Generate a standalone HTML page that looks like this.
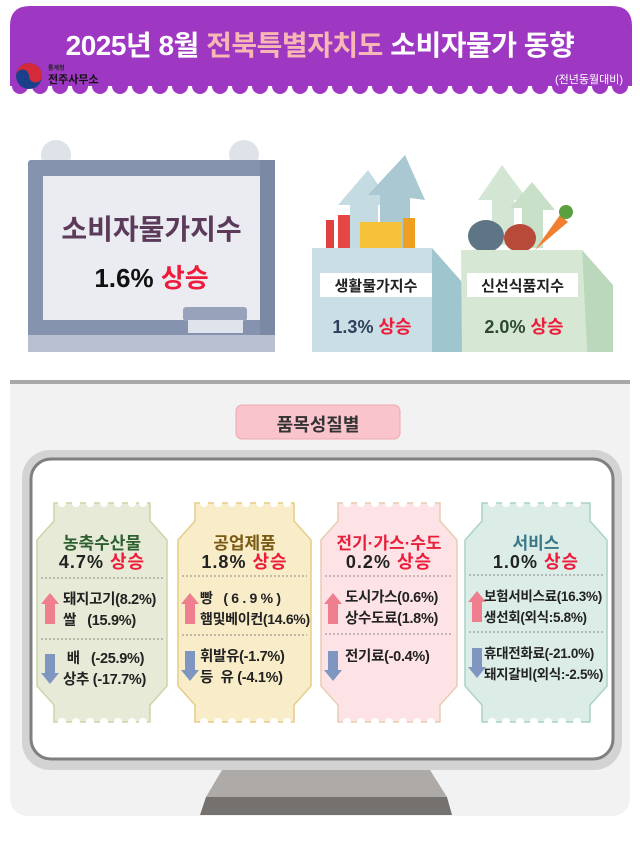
<!DOCTYPE html>
<html><head><meta charset="utf-8">
<style>
body{margin:0;width:640px;height:851px;background:#fff;position:relative;overflow:hidden;font-family:"Liberation Sans","Noto Sans CJK KR",sans-serif;}
.a{position:absolute;white-space:nowrap;}
.b{font-weight:bold;}
.r{color:#ee1c3a;}
.tk{position:absolute;text-align:center;}
.it{position:absolute;font-size:14.5px;font-weight:bold;color:#222;line-height:21px;letter-spacing:-0.3px;}
</style></head><body>
<svg class="a" style="left:0;top:0" width="640" height="851">
 <path d="M10,26 Q10,6 30,6 L612,6 Q632,6 632,26 L632,86 L10,86 Z" fill="#9e38c2"/>
 <g fill="#9e38c2">
  <circle cx="20" cy="86" r="8"/><circle cx="40" cy="86" r="8"/><circle cx="60" cy="86" r="8"/><circle cx="80" cy="86" r="8"/><circle cx="100" cy="86" r="8"/><circle cx="120" cy="86" r="8"/><circle cx="140" cy="86" r="8"/><circle cx="160" cy="86" r="8"/><circle cx="180" cy="86" r="8"/><circle cx="200" cy="86" r="8"/><circle cx="220" cy="86" r="8"/><circle cx="240" cy="86" r="8"/><circle cx="260" cy="86" r="8"/><circle cx="280" cy="86" r="8"/><circle cx="300" cy="86" r="8"/><circle cx="320" cy="86" r="8"/><circle cx="340" cy="86" r="8"/><circle cx="360" cy="86" r="8"/><circle cx="380" cy="86" r="8"/><circle cx="400" cy="86" r="8"/><circle cx="420" cy="86" r="8"/><circle cx="440" cy="86" r="8"/><circle cx="460" cy="86" r="8"/><circle cx="480" cy="86" r="8"/><circle cx="500" cy="86" r="8"/><circle cx="520" cy="86" r="8"/><circle cx="540" cy="86" r="8"/><circle cx="560" cy="86" r="8"/><circle cx="580" cy="86" r="8"/><circle cx="600" cy="86" r="8"/><circle cx="620" cy="86" r="8"/>
 </g>
 <rect x="0" y="78" width="10" height="20" fill="#fff"/><rect x="632" y="78" width="8" height="20" fill="#fff"/>
 <circle cx="29" cy="76" r="13" fill="#1c3f8a"/>
 <path d="M16,76 A13,13 0 0 1 42,76 A6.5,6.5 0 0 1 29,76 A6.5,6.5 0 0 0 16,76Z" fill="#d42a3a"/>
 <circle cx="56" cy="155" r="15" fill="#dfe2e9"/><circle cx="244" cy="155" r="15" fill="#dfe2e9"/>
 <rect x="28" y="160" width="247" height="192" rx="3" fill="#8593ae"/>
 <rect x="260" y="160" width="15" height="192" fill="#7c89a5"/>
 <rect x="28" y="335" width="247" height="17" fill="#b9c0d1"/>
 <rect x="43" y="176" width="217" height="144" fill="#eaecf1"/>
 <rect x="183" y="307" width="64" height="14" rx="3" fill="#98a3bb"/>
 <rect x="188" y="320" width="55" height="13" fill="#dfe3ec"/>
 <path d="M350,250 L350,205 L338,205 L368,170 L392,205 L378,205 L378,250Z" fill="#c5dbe2"/>
 <path d="M380,250 L380,195 L368,195 L405,155 L425,200 L410,198 L410,250Z" fill="#a9c8d2"/>
 <rect x="326" y="220" width="8" height="35" fill="#e04040"/>
 <rect x="338" y="215" width="12" height="40" fill="#e84545"/>
 <rect x="360" y="222" width="42" height="30" fill="#f5c23a"/><rect x="403" y="218" width="12" height="35" fill="#f0a020"/>
 <path d="M312,248 L432,248 L432,352 L312,352Z" fill="#c9dfe5"/>
 <path d="M432,248 L462,282 L462,352 L432,352Z" fill="#9fc5cf"/>
 <path d="M492,245 L492,200 L478,200 L502,165 L528,200 L514,200 L514,245Z" fill="#d3e6d3"/>
 <path d="M522,248 L522,208 L510,208 L532,182 L555,210 L543,210 L543,248Z" fill="#c8dfc8"/>
 <ellipse cx="486" cy="236" rx="18" ry="16" fill="#5d7585"/>
 <ellipse cx="520" cy="238" rx="16" ry="14" fill="#b84a3a"/>
 <path d="M535,250 L560,215 L568,222 Z" fill="#f08030"/><circle cx="566" cy="212" r="7" fill="#5aa040"/>
 <path d="M461,250 L582,250 L587,352 L462,352Z" fill="#d6e7d4"/>
 <path d="M582,250 L613,285 L613,352 L587,352Z" fill="#bcd8bc"/>
 <rect x="320" y="273" width="112" height="24" fill="#fff"/>
 <rect x="467" y="273" width="111" height="24" fill="#fff"/>
 <rect x="10" y="380" width="620" height="4" fill="#a8a8a8"/>
 <path d="M10,384 L630,384 L630,796 Q630,816 610,816 L30,816 Q10,816 10,796Z" fill="#f2f2f2"/>
 <rect x="236" y="405" width="164" height="34" rx="6" fill="#f9c4cb" stroke="#f0a8b2"/>
 <rect x="22" y="450" width="600" height="320" rx="28" fill="#d3d3d3"/>
 <rect x="31" y="459" width="582" height="300" rx="20" fill="#fff" stroke="#7f7f7f" stroke-width="3"/>
 <path d="M222,770 L430,770 L447,797 L206,797Z" fill="#aeaaa8"/>
 <path d="M206,797 L447,797 L452,815 L200,815Z" fill="#75716f"/>
 <g stroke-width="1.5">
 <polygon points="37,540 54,521 54,503 150,503 150,521 167,540 167,686 150,705 150,722 54,722 54,705 37,686" fill="#e6ead6" stroke="#ccd4a8"/>
 <polygon points="178,540 195,521 195,503 294,503 294,521 311,540 311,686 294,705 294,722 195,722 195,705 178,686" fill="#f8ecc9" stroke="#e6cc86"/>
 <polygon points="321,540 338,521 338,503 440,503 440,521 457,540 457,686 440,705 440,722 338,722 338,705 321,686" fill="#fde3e6" stroke="#e8cdb0"/>
 <polygon points="465,540 482,521 482,503 590,503 590,521 607,540 607,686 590,705 590,722 482,722 482,705 465,686" fill="#dcede7" stroke="#a9d2c8"/>
 </g>
 <g fill="#fff">
  <circle cx="62" cy="503" r="4"/><circle cx="76" cy="503" r="4"/><circle cx="90" cy="503" r="4"/><circle cx="104" cy="503" r="4"/><circle cx="118" cy="503" r="4"/><circle cx="132" cy="503" r="4"/><circle cx="143" cy="503" r="4"/>
  <circle cx="62" cy="722" r="4"/><circle cx="76" cy="722" r="4"/><circle cx="90" cy="722" r="4"/><circle cx="104" cy="722" r="4"/><circle cx="118" cy="722" r="4"/><circle cx="132" cy="722" r="4"/><circle cx="143" cy="722" r="4"/>
  <circle cx="204" cy="503" r="4"/><circle cx="218" cy="503" r="4"/><circle cx="232" cy="503" r="4"/><circle cx="246" cy="503" r="4"/><circle cx="260" cy="503" r="4"/><circle cx="274" cy="503" r="4"/><circle cx="287" cy="503" r="4"/>
  <circle cx="204" cy="722" r="4"/><circle cx="218" cy="722" r="4"/><circle cx="232" cy="722" r="4"/><circle cx="246" cy="722" r="4"/><circle cx="260" cy="722" r="4"/><circle cx="274" cy="722" r="4"/><circle cx="287" cy="722" r="4"/>
  <circle cx="347" cy="503" r="4"/><circle cx="361" cy="503" r="4"/><circle cx="375" cy="503" r="4"/><circle cx="389" cy="503" r="4"/><circle cx="403" cy="503" r="4"/><circle cx="417" cy="503" r="4"/><circle cx="431" cy="503" r="4"/>
  <circle cx="347" cy="722" r="4"/><circle cx="361" cy="722" r="4"/><circle cx="375" cy="722" r="4"/><circle cx="389" cy="722" r="4"/><circle cx="403" cy="722" r="4"/><circle cx="417" cy="722" r="4"/><circle cx="431" cy="722" r="4"/>
  <circle cx="492" cy="503" r="4"/><circle cx="506" cy="503" r="4"/><circle cx="520" cy="503" r="4"/><circle cx="534" cy="503" r="4"/><circle cx="548" cy="503" r="4"/><circle cx="562" cy="503" r="4"/><circle cx="577" cy="503" r="4"/>
  <circle cx="492" cy="722" r="4"/><circle cx="506" cy="722" r="4"/><circle cx="520" cy="722" r="4"/><circle cx="534" cy="722" r="4"/><circle cx="548" cy="722" r="4"/><circle cx="562" cy="722" r="4"/><circle cx="577" cy="722" r="4"/>
 </g>
 <g stroke="#888" stroke-dasharray="2,2" stroke-width="1">
  <line x1="41" y1="578" x2="163" y2="578"/><line x1="41" y1="639" x2="163" y2="639"/>
  <line x1="182" y1="576" x2="307" y2="576"/><line x1="182" y1="635" x2="307" y2="635"/>
  <line x1="325" y1="576" x2="453" y2="576"/><line x1="325" y1="634" x2="453" y2="634"/>
  <line x1="469" y1="575" x2="603" y2="575"/><line x1="469" y1="632" x2="603" y2="632"/>
 </g>
 <g fill="#ef7f8e">
  <path d="M45,624 L45,604 L41,604 L50,593 L59,604 L55,604 L55,624Z"/>
  <path d="M185,624 L185,604 L181,604 L190,593 L199,604 L195,604 L195,624Z"/>
  <path d="M328,624 L328,604 L324,604 L333,593 L342,604 L338,604 L338,624Z"/>
  <path d="M472,622 L472,602 L468,602 L477,591 L486,602 L482,602 L482,622Z"/>
 </g>
 <g fill="#7f97c0">
  <path d="M45,654 L55,654 L55,673 L59,673 L50,684 L41,673 L45,673Z"/>
  <path d="M185,651 L195,651 L195,670 L199,670 L190,681 L181,670 L185,670Z"/>
  <path d="M328,651 L338,651 L338,670 L342,670 L333,681 L324,670 L328,670Z"/>
  <path d="M472,648 L482,648 L482,667 L486,667 L477,678 L468,667 L472,667Z"/>
 </g>
</svg>

<div class="a b" style="left:0;width:640px;top:24px;text-align:center;font-size:28px;color:#fff;letter-spacing:-0.5px;">2025년 8월 <span style="color:#f7b7b4">전북특별자치도</span> 소비자물가 동향</div>
<div class="a b" style="left:48px;top:63px;font-size:6px;color:#222;">통계청</div>
<div class="a b" style="left:48px;top:71px;font-size:11px;color:#111;">전주사무소</div>
<div class="a" style="left:555px;top:71px;font-size:11px;color:#fff;">(전년동월대비)</div>

<div class="a b" style="left:43px;width:217px;top:208px;text-align:center;font-size:28px;color:#5b3a5a;">소비자물가지수</div>
<div class="a b" style="left:43px;width:217px;top:258px;text-align:center;font-size:26px;color:#111;">1.6% <span class="r">상승</span></div>

<div class="a b" style="left:320px;width:112px;top:275px;text-align:center;font-size:15px;color:#222;">생활물가지수</div>
<div class="a b" style="left:467px;width:111px;top:275px;text-align:center;font-size:15px;color:#222;">신선식품지수</div>
<div class="a b" style="left:312px;width:120px;top:313px;text-align:center;font-size:18px;color:#2f3f60;">1.3% <span class="r">상승</span></div>
<div class="a b" style="left:461px;width:126px;top:313px;text-align:center;font-size:18px;color:#2d4a2d;">2.0% <span class="r">상승</span></div>

<div class="a b" style="left:236px;width:164px;top:411px;text-align:center;font-size:18px;color:#333;">품목성질별</div>

<div class="tk b" style="left:37px;width:130px;top:529px;font-size:17px;color:#2e5f30;">농축수산물</div>
<div class="tk b" style="left:37px;width:130px;top:548px;font-size:18px;color:#222;letter-spacing:1px;">4.7% <span class="r">상승</span></div>
<div class="it" style="left:63px;top:590px;">돼지고기(8.2%)<br>쌀&nbsp;&nbsp;&nbsp;(15.9%)</div>
<div class="it" style="left:63px;top:649px;">&nbsp;배&nbsp;&nbsp;&nbsp;(-25.9%)<br>상추 (-17.7%)</div>

<div class="tk b" style="left:178px;width:133px;top:529px;font-size:17px;color:#7a5a12;">공업제품</div>
<div class="tk b" style="left:178px;width:133px;top:548px;font-size:18px;color:#222;letter-spacing:1px;">1.8% <span class="r">상승</span></div>
<div class="it" style="left:200px;top:588px;font-size:14px;">빵&nbsp;&nbsp;&nbsp;( 6 . 9 % )<br>햄및베이컨(14.6%)</div>
<div class="it" style="left:200px;top:647px;">휘발유(-1.7%)<br>등&nbsp;&nbsp;유 (-4.1%)</div>

<div class="tk b" style="left:321px;width:136px;top:529px;font-size:17px;color:#e8203a;">전기·가스·수도</div>
<div class="tk b" style="left:321px;width:136px;top:548px;font-size:18px;color:#222;letter-spacing:1px;">0.2% <span class="r">상승</span></div>
<div class="it" style="left:345px;top:588px;">도시가스(0.6%)<br>상수도료(1.8%)</div>
<div class="it" style="left:345px;top:647px;">전기료(-0.4%)</div>

<div class="tk b" style="left:465px;width:142px;top:529px;font-size:17px;color:#3a7888;">서비스</div>
<div class="tk b" style="left:465px;width:142px;top:548px;font-size:18px;color:#222;letter-spacing:1px;">1.0% <span class="r">상승</span></div>
<div class="it" style="left:484px;top:586px;font-size:13.5px;">보험서비스료(16.3%)<br>생선회(외식:5.8%)</div>
<div class="it" style="left:484px;top:643px;font-size:13.5px;">휴대전화료(-21.0%)<br>돼지갈비(외식:-2.5%)</div>
</body></html>
